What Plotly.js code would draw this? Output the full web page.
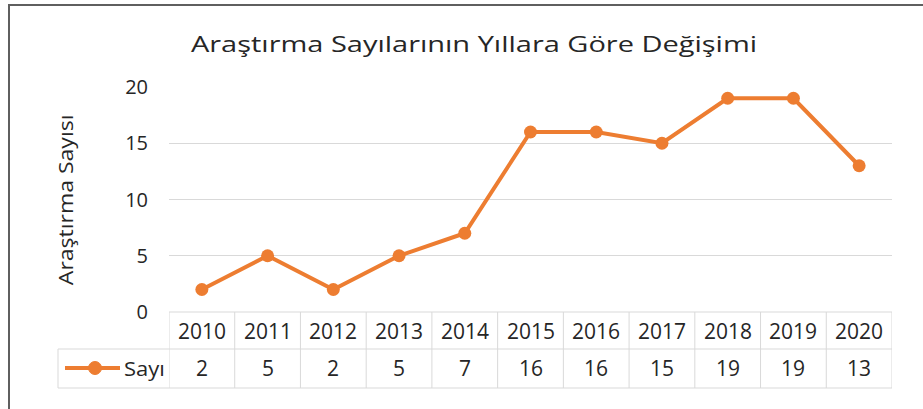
<!DOCTYPE html>
<html><head><meta charset="utf-8">
<script src="https://cdn.plot.ly/plotly-3.0.1.min.js"></script>
<style>html,body{margin:0;padding:0;background:#fff;}</style>
</head><body><div id="chart" style="width:923px;height:409px;"></div>
<script>
const years = ['2010','2011','2012','2013','2014','2015','2016','2017','2018','2019','2020'];
const values = [2,5,2,5,7,16,16,15,19,19,13];
const seriesName = 'Sayı';
const yTickValues = [0,5,10,15,20];
const chartTitle = 'Araştırma Sayılarının Yıllara Göre Değişimi';
const yTitle = 'Araştırma Sayısı';

const W = 923, H = 409;
const px = x => x / W;
const py = y => 1 - y / H;
const orange = '#ED7D31';
const gridCol = '#D9D9D9';
const textCol = '#262626';
const font = 'Open Sans, Noto Sans, sans-serif';

const tableTop = 312, rowMid = 349, tableBottom = 388, legendLeft = 58;
const shapes = [];
const annotations = [];

// frame
shapes.push({type:'line', xref:'paper', yref:'paper', x0:px(8), x1:1, y0:py(5), y1:py(5), line:{color:'#5f5f5f', width:2}});
shapes.push({type:'line', xref:'paper', yref:'paper', x0:px(9), x1:px(9), y0:py(4), y1:0, line:{color:'#5f5f5f', width:2}});

// table horizontal lines
shapes.push({type:'line', xref:'x', yref:'paper', x0:-0.5, x1:years.length-0.5, y0:py(tableTop), y1:py(tableTop), line:{color:gridCol, width:1}});
shapes.push({type:'line', xref:'paper', yref:'paper', x0:px(legendLeft), x1:px(legendLeft), y0:py(rowMid), y1:py(tableBottom), line:{color:gridCol, width:1}});
[rowMid, tableBottom].forEach(yy => {
  shapes.push({type:'line', xref:'paper', yref:'paper', x0:px(legendLeft), x1:px(169), y0:py(yy), y1:py(yy), line:{color:gridCol, width:1}});
  shapes.push({type:'line', xref:'x', yref:'paper', x0:-0.5, x1:years.length-0.5, y0:py(yy), y1:py(yy), line:{color:gridCol, width:1}});
});
for (let i = 0; i <= years.length; i++) {
  shapes.push({type:'line', xref:'x', yref:'paper', x0:i-0.5, x1:i-0.5, y0:py(tableTop), y1:py(tableBottom), line:{color:gridCol, width:1}});
}
// legend key
shapes.push({type:'line', xref:'paper', yref:'paper', x0:px(65), x1:px(120), y0:py(368), y1:py(368), line:{color:orange, width:4}});
shapes.push({type:'circle', xref:'paper', yref:'paper', x0:px(88.5), x1:px(101.5), y0:py(361.5), y1:py(374.5), fillcolor:orange, line:{color:orange, width:1}});

annotations.push({xref:'paper', yref:'paper', x:px(122), y:py(368), xanchor:'left', yanchor:'middle', text:seriesName, showarrow:false, font:{family:font, size:20, color:textCol}});

years.forEach((yr, i) => {
  annotations.push({xref:'x', yref:'paper', x:i, y:py(331), xanchor:'center', yanchor:'middle', text:yr, showarrow:false, font:{family:font, size:21, color:textCol}});
  annotations.push({xref:'x', yref:'paper', x:i, y:py(368), xanchor:'center', yanchor:'middle', text:String(values[i]), showarrow:false, font:{family:font, size:21, color:textCol}});
});

annotations.push({xref:'paper', yref:'paper', x:px(65), y:py(200), xanchor:'center', yanchor:'middle', textangle:-90, text:yTitle, showarrow:false, font:{family:font, size:20, color:textCol}});

const trace = {
  type:'scatter', mode:'lines+markers', x:years.map((_,i)=>i), y:values, name:seriesName,
  line:{color:orange, width:4}, marker:{color:orange, size:13}, hoverinfo:'skip', cliponaxis:false
};

const layout = {
  width:W, height:H, margin:{l:0, r:0, t:0, b:0}, paper_bgcolor:'#fff', plot_bgcolor:'#fff',
  showlegend:false,
  title:{text:chartTitle, x:px(474), xanchor:'center', y:py(45), yanchor:'middle', font:{family:font, size:21, color:textCol}},
  xaxis:{domain:[px(169), px(892)], range:[-0.5, years.length-0.5], showticklabels:false, showgrid:false, zeroline:false, showline:false, ticks:'', fixedrange:true},
  yaxis:{domain:[py(312), py(87)], range:[0,20], tickvals:yTickValues, ticktext:yTickValues.map(String), showgrid:true, gridcolor:gridCol, gridwidth:1, zeroline:false, showline:false, ticks:'', ticklabelstandoff:20, tickfont:{family:font, size:20, color:textCol}, fixedrange:true},
  shapes:shapes, annotations:annotations
};

// horizontal stretch of a text element in its own coordinates (the reference's text is wide)
function stretch(el, f, origin) {
  if (!el) return;
  const bb = el.getBBox();
  const ox = origin === 'left' ? bb.x : bb.x + bb.width / 2;
  const prev = el.getAttribute('transform') || '';
  el.setAttribute('transform', prev + ` translate(${ox},0) scale(${f},1) translate(${-ox},0)`);
}
function findText(gd, str) {
  return Array.from(gd.querySelectorAll('text')).find(t => t.textContent === str);
}

Plotly.newPlot('chart', [trace], layout, {displayModeBar:false, staticPlot:true}).then(gd => {
  stretch(gd.querySelector('.gtitle'), 1.38, 'center');
  stretch(findText(gd, yTitle), 1.15, 'center');
  stretch(findText(gd, seriesName), 1.1, 'left');
});
</script></body></html>
